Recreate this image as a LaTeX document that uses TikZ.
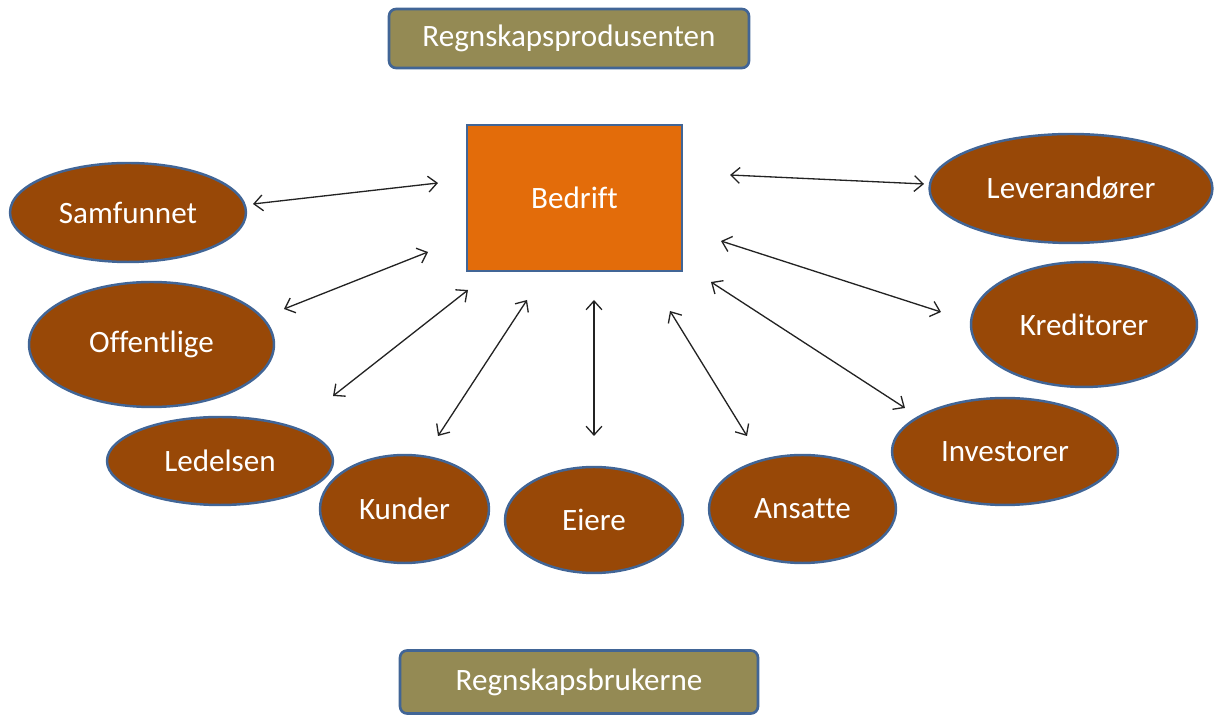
\documentclass[tikz,border=0pt]{standalone}
\usepackage{fontspec}
\setmainfont{Carlito}[Ligatures=NoCommon]
\usetikzlibrary{shapes.geometric,arrows.meta}
\definecolor{rimblue}{RGB}{65,101,150}
\definecolor{olivebox}{RGB}{148,138,84}
\definecolor{firmorange}{RGB}{227,108,10}
\definecolor{rust}{RGB}{152,72,7}
\definecolor{arrowgray}{RGB}{35,35,35}
\begin{document}
\begin{tikzpicture}[x=0.02cm,y=-0.02cm,
  lbl/.style={text=white,font=\fontsize{17.7}{21}\selectfont},
  header/.style={lbl,draw=rimblue,line width=1.5pt,fill=olivebox,rounded corners=4pt,inner sep=0pt},
  firm/.style={lbl,draw=rimblue,line width=1.5pt,fill=firmorange,inner sep=0pt,
    minimum width=4.3cm,minimum height=2.92cm},
  party/.style={lbl,ellipse,draw=rimblue,line width=1.4pt,fill=rust,inner sep=0pt},
  link/.style={arrowgray,line width=0.75pt,{Straight Barb[length=5pt,width=9pt]}-{Straight Barb[length=5pt,width=9pt]}}
]
\useasboundingbox (0,0) rectangle (1215,715);

% headings
\node[header,minimum width=7.2cm,minimum height=1.18cm] (prod) at (569,38.5) {Regnskapsprodusenten};
\node[header,minimum width=7.16cm,minimum height=1.26cm] (users) at (579,682) {Regnskapsbrukerne};

% the company
\node[firm] (firm) at (574.5,198) {Bedrift};

% stakeholders
\node[party,minimum width=4.72cm,minimum height=1.98cm] (samf) at (128,212.5) {Samfunnet};
\node[party,minimum width=4.9cm,minimum height=2.5cm] (off) at (151.5,344.5) {Offentlige};
\node[party,minimum width=4.52cm,minimum height=1.76cm] (led) at (220,461) {Ledelsen};
\node[party,minimum width=3.38cm,minimum height=2.16cm] (kund) at (404.5,509) {Kunder};
\node[party,minimum width=3.56cm,minimum height=2.12cm] (eier) at (594,520) {Eiere};
\node[party,minimum width=3.74cm,minimum height=2.16cm] (ans) at (802.5,509) {Ansatte};
\node[party,minimum width=4.52cm,minimum height=2.14cm] (inv) at (1005,451.5) {Investorer};
\node[party,minimum width=4.52cm,minimum height=2.5cm] (kred) at (1084,324.5) {Kreditorer};
\node[party,minimum width=5.66cm,minimum height=2.18cm] (lev) at (1071,188.5) {Leverandører};

% arrow ends (the arrows stop short of the shapes)
\coordinate (samfA) at (253,204);  \coordinate (samfB) at (438,183);
\coordinate (offA) at (284,309);   \coordinate (offB) at (428,252);
\coordinate (ledA) at (333,396);   \coordinate (ledB) at (468,290);
\coordinate (kundA) at (438,436);  \coordinate (kundB) at (527,300);
\coordinate (eierA) at (594,436);  \coordinate (eierB) at (594,300);
\coordinate (ansA) at (747,436);   \coordinate (ansB) at (670,311);
\coordinate (invA) at (905,408);   \coordinate (invB) at (711,282);
\coordinate (kredA) at (941,312);  \coordinate (kredB) at (721,241);
\coordinate (levA) at (924,184);   \coordinate (levB) at (730,175);

\foreach \p in {samf,off,led,kund,eier,ans,inv,kred,lev}
  \draw[link] (\p A) -- (\p B);
\end{tikzpicture}
\end{document}
